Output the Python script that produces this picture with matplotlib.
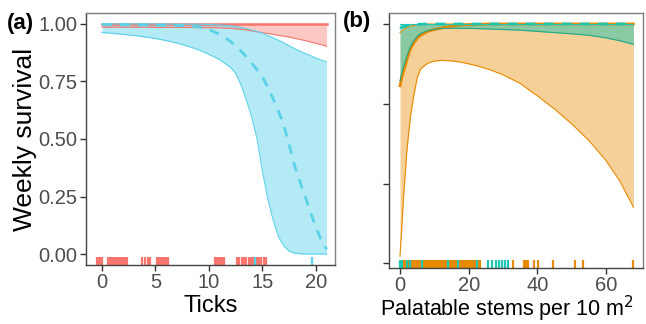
import matplotlib
matplotlib.use("Agg")
import matplotlib.pyplot as plt

plt.rcParams['font.family'] = ['Liberation Sans', 'DejaVu Sans']

# ---- panel (a): survival vs ticks ----
ticks_x = [0, 1, 2, 3, 4, 5, 6, 7, 8, 9, 10, 11, 12, 12.5, 13, 13.5, 14, 14.5, 15, 15.5,
           16, 16.5, 17, 17.5, 18, 18.5, 19, 19.5, 20, 20.5, 21]

red_mean = [1.0, 1.0, 1.0, 1.0, 1.0, 1.0, 1.0, 1.0, 1.0, 1.0, 1.0, 1.0, 1.0, 1.0, 1.0, 1.0,
            1.0, 1.0, 1.0, 1.0, 1.0, 1.0, 1.0, 1.0, 1.0, 1.0, 1.0, 1.0, 1.0, 1.0, 1.0]
red_upper = [1.0, 1.0, 1.0, 1.0, 1.0, 1.0, 1.0, 1.0, 1.0, 1.0, 1.0, 1.0, 1.0, 1.0, 1.0, 1.0,
             1.0, 1.0, 1.0, 1.0, 1.0, 1.0, 1.0, 1.0, 1.0, 1.0, 1.0, 1.0, 1.0, 1.0, 1.0]
red_lower = [0.986, 0.986, 0.986, 0.986, 0.986, 0.985, 0.985, 0.985, 0.985, 0.984, 0.984,
             0.983, 0.981, 0.979, 0.977, 0.974, 0.970, 0.966, 0.962, 0.959, 0.955, 0.951,
             0.947, 0.943, 0.938, 0.933, 0.928, 0.922, 0.916, 0.910, 0.903]

cyan_mean = [0.998, 0.998, 0.997, 0.997, 0.996, 0.995, 0.994, 0.993, 0.992, 0.988, 0.976,
             0.955, 0.925, 0.905, 0.882, 0.857, 0.830, 0.800, 0.770, 0.725, 0.675, 0.620,
             0.560, 0.475, 0.385, 0.315, 0.250, 0.180, 0.115, 0.060, 0.020]
cyan_upper = [1.0, 1.0, 1.0, 1.0, 1.0, 1.0, 1.0, 0.999, 0.999, 0.999, 0.998, 0.996, 0.992,
              0.989, 0.985, 0.980, 0.974, 0.967, 0.960, 0.950, 0.940, 0.929, 0.918, 0.905,
              0.893, 0.882, 0.872, 0.862, 0.852, 0.843, 0.835]
cyan_lower = [0.963, 0.959, 0.955, 0.950, 0.944, 0.937, 0.928, 0.917, 0.904, 0.888, 0.868,
              0.845, 0.812, 0.785, 0.735, 0.670, 0.595, 0.500, 0.360, 0.240, 0.148, 0.075,
              0.035, 0.012, 0.004, 0.001, 0.0, 0.0, 0.0, 0.0, 0.0]

red_rug = [-0.45, -0.3, -0.15, 0.0, 0.55, 0.7, 0.85, 1.0, 1.15, 1.3, 1.45, 1.6, 1.75, 1.9,
           2.05, 2.2, 2.35, 3.7, 4.05, 4.3, 4.5, 5.15, 5.3, 5.45, 5.6, 5.75, 5.9, 6.05, 6.2,
           10.55, 10.7, 10.85, 11.0, 11.15, 11.3, 11.45, 12.6, 12.85, 13.1, 13.3, 13.5, 13.7,
           13.95, 14.1, 14.5, 14.7, 14.9, 15.1, 15.35]
cyan_rug = [14.3, 19.6]

# ---- panel (b): survival vs palatable stems ----
stems_x = [0, 0.5, 1, 1.5, 2, 3, 4, 5, 6, 8, 10, 12, 15, 18, 22, 26, 30, 35, 40, 45, 50,
           55, 60, 64, 68]

orange_mean = [0.742, 0.775, 0.800, 0.825, 0.850, 0.895, 0.920, 0.940, 0.953, 0.968, 0.977,
               0.983, 0.991, 0.996, 0.998, 1.0, 1.0, 1.0, 1.0, 1.0, 1.0, 1.0, 1.0, 1.0, 1.0]
orange_upper = [0.964, 0.970, 0.976, 0.981, 0.985, 0.990, 0.994, 0.997, 0.998, 1.0, 1.0,
                1.0, 1.0, 1.0, 1.0, 1.0, 1.0, 1.0, 1.0, 1.0, 1.0, 1.0, 1.0, 1.0, 1.0]
orange_lower = [0.03, 0.15, 0.27, 0.37, 0.47, 0.61, 0.70, 0.775, 0.812, 0.836, 0.845, 0.848,
                0.846, 0.840, 0.827, 0.810, 0.788, 0.752, 0.700, 0.645, 0.583, 0.514, 0.430,
                0.345, 0.235]

teal_mean = [0.982, 0.986, 0.989, 0.991, 0.993, 0.995, 0.997, 0.998, 0.999, 1.0, 1.0, 1.0,
             1.0, 1.0, 1.0, 1.0, 1.0, 1.0, 1.0, 1.0, 1.0, 1.0, 1.0, 1.0, 1.0]
teal_upper = [1.0, 1.0, 1.0, 1.0, 1.0, 1.0, 1.0, 1.0, 1.0, 1.0, 1.0, 1.0, 1.0, 1.0, 1.0,
              1.0, 1.0, 1.0, 1.0, 1.0, 1.0, 1.0, 1.0, 1.0, 1.0]
teal_lower = [0.762, 0.795, 0.820, 0.842, 0.865, 0.905, 0.930, 0.948, 0.960, 0.972, 0.978,
              0.981, 0.982, 0.982, 0.981, 0.979, 0.977, 0.974, 0.969, 0.964, 0.959, 0.953,
              0.942, 0.930, 0.915]

orange_rug = [1.1, 1.5, 2.4, 3.5, 3.9, 4.3, 4.7, 5.1, 5.5, 5.9, 7.0, 7.4, 7.8, 8.2, 8.6,
              9.0, 9.4, 9.8, 10.2, 10.6, 11.0, 11.4, 11.8, 12.2, 12.6, 13.0, 13.4, 13.7,
              14.5, 14.9, 15.3, 15.7, 16.1, 16.5, 17.6, 18.0, 18.4, 18.8, 19.2, 19.6, 20.0,
              20.4, 20.8, 21.2, 21.6, 22.0, 23.0, 23.4, 32.8, 36.2, 36.6, 37.0, 37.4, 38.9,
              40.3, 44.5, 51.0, 53.2, 67.8]
teal_rug = [0.0, 0.3, 0.7, 2.0, 2.9, 6.4, 14.1, 17.0, 22.5, 25.7, 26.7, 27.9, 28.7, 29.7,
            30.6, 31.6]

yticks_a = [0, 0.25, 0.5, 0.75, 1.0]
ylabels_a = ['0.00', '0.25', '0.50', '0.75', '1.00']
xticks_a = [0, 5, 10, 15, 20]
xticks_b = [0, 20, 40, 60]
yticks_b = [0, 1 / 3, 2 / 3, 1.0]

RED = '#F8766D'
CYAN = '#5AD2EA'
ORANGE = '#E68A00'
TEAL = '#1FC6B2'
GREY = '#7F7F7F'


def style(ax):
    for s in ax.spines.values():
        s.set_color(GREY)
        s.set_linewidth(1.0)
    ax.spines['left'].set_color('#444444')
    ax.spines['bottom'].set_color('#444444')
    ax.tick_params(length=4, width=1, color='#333333', labelcolor='#4D4D4D',
                   labelsize=14.5, pad=2)


def rug(ax, vals, color):
    ax.vlines(vals, 0, 0.03, colors=color, lw=1.6,
              transform=ax.get_xaxis_transform())


fig = plt.figure(figsize=(6.46, 3.24), dpi=100)

# panel (a)
ax1 = fig.add_axes([0.1331, 0.1821, 0.3854, 0.7778])
ax1.fill_between(ticks_x, red_lower, red_upper, color=RED, alpha=0.4, lw=0)
ax1.plot(ticks_x, red_lower, color=RED, lw=0.8)
ax1.plot(ticks_x, red_upper, color=RED, lw=0.8)
ax1.plot(ticks_x, red_mean, color=RED, lw=1.8)
ax1.fill_between(ticks_x, cyan_lower, cyan_upper, color=CYAN, alpha=0.45, lw=0)
ax1.plot(ticks_x, cyan_lower, color=CYAN, lw=0.8)
ax1.plot(ticks_x, cyan_upper, color=CYAN, lw=0.8)
ax1.plot(ticks_x, cyan_mean, color=CYAN, lw=2.0, dashes=(3.5, 3))
rug(ax1, red_rug, RED)
rug(ax1, cyan_rug, CYAN)
ax1.set_xlim(-1.5, 21.78)
ax1.set_ylim(-0.0478, 1.0478)
ax1.set_xticks(xticks_a)
ax1.set_yticks(yticks_a)
ax1.set_yticklabels(ylabels_a)
style(ax1)
ax1.set_xlabel('Ticks', fontsize=17, labelpad=2)
ax1.set_ylabel('Weekly survival', fontsize=19, labelpad=1)

# panel (b)
ax2 = fig.add_axes([0.6022, 0.1728, 0.3932, 0.787])
ax2.fill_between(stems_x, orange_lower, orange_upper, color=ORANGE, alpha=0.4, lw=0)
ax2.plot(stems_x, orange_lower, color=ORANGE, lw=0.8)
ax2.plot(stems_x, orange_upper, color=ORANGE, lw=0.8)
ax2.plot(stems_x, orange_mean, color=ORANGE, lw=2.0)
ax2.fill_between(stems_x, teal_lower, teal_upper, color=TEAL, alpha=0.5, lw=0)
ax2.plot(stems_x, teal_lower, color='#22A882', lw=0.8)
ax2.plot(stems_x, teal_upper, color=TEAL, lw=0.8)
ax2.plot(stems_x, teal_mean, color=TEAL, lw=2.0, dashes=(3.5, 3))
rug(ax2, orange_rug, ORANGE)
rug(ax2, teal_rug, TEAL)
ax2.set_xlim(-3.2, 70.8)
ax2.set_ylim(-0.019, 1.0458)
ax2.set_xticks(xticks_b)
ax2.set_yticks(yticks_b)
ax2.set_yticklabels([])
style(ax2)
ax2.set_xlabel('Palatable stems per 10 m$^2$', fontsize=15.5, labelpad=0)
ax2.xaxis.set_label_coords(0.465, -0.102)

fig.text(0.011, 0.929, '(a)', fontsize=16, fontweight='bold', va='center')
fig.text(0.530, 0.934, '(b)', fontsize=16, fontweight='bold', va='center')

fig.savefig('out.png', dpi=100)
